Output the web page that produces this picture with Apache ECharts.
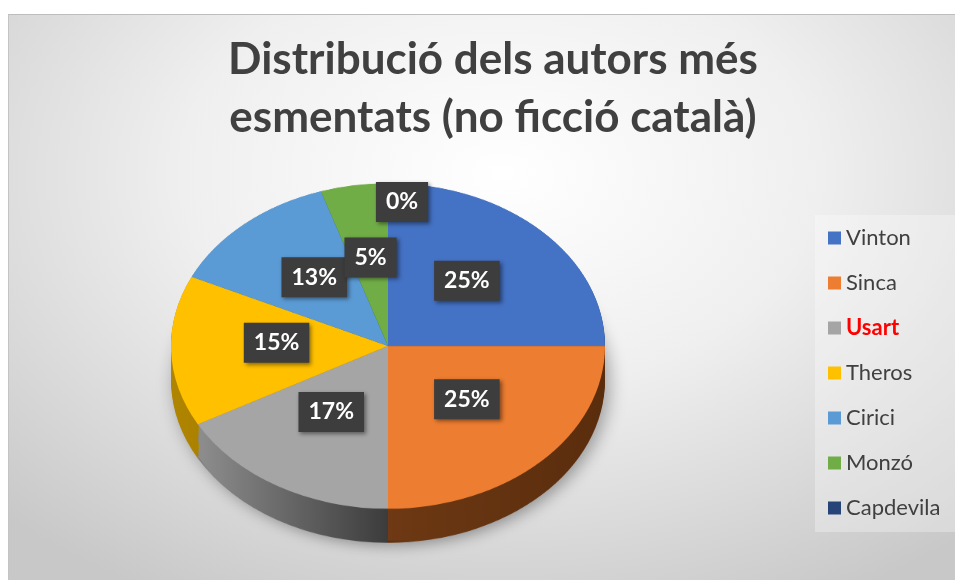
<!DOCTYPE html>
<html>
<head>
<meta charset="utf-8">
<script src="https://cdn.jsdelivr.net/npm/echarts@6/dist/echarts.min.js"></script>
<style>
    html, body { margin: 0; padding: 0; width: 955px; height: 580px; overflow: hidden; background: #fff; }
    #bg {
        position: absolute; left: 8px; top: 14px; right: 0; bottom: 0;
        background: radial-gradient(ellipse 75% 85% at 52% 28%, #ffffff 0%, #efefef 45%, #c8c8c8 100%);
        border-top: 1px solid #bdbdbd; border-left: 1px solid #c4c4c4;
    }
    #pies { position: absolute; left: 0; top: 0; width: 955px; height: 800px; transform-origin: 0 0; }
    #main { position: absolute; left: 0; top: 0; width: 955px; height: 580px; }
</style>
</head>
<body>
<div id="bg"></div>
<div id="pies"></div>
<div id="main"></div>
<script>
var titleText = 'Distribució dels autors més\nesmentats (no ficció català)';
var names = ['Vinton', 'Sinca', 'Usart', 'Theros', 'Cirici', 'Monzó', 'Capdevila'];
var values = [25, 25, 17, 15, 13, 5, 0];
var colors = ['#4472C4', '#ED7D31', '#A5A5A5', '#FFC000', '#5B9BD5', '#70AD47', '#264478'];
var highlight = 'Usart';

// geometria del "pastis 3D" (pantalla)
var CX = 388, CY = 346, R = 217, K = 0.75, DEPTH = 34;
var LABEL_SHIFT = -6; // perspectiva: les etiquetes una mica amunt

// colors del lateral (mes foscos)
var sideColors = [
    ['#2d4d86', '#22396a'],
    ['#6e3914', '#5a2d0d'],
    ['#8e8e8e', '#3c3c3c'],
    ['#b08500', '#8a6800'],
    ['#3c6a96', '#2c5076'],
    ['#4b7530', '#3a5c24'],
    ['#18294a', '#101d36']
];

function sliceData(cols) {
    return names.map(function (n, i) {
        return { name: n, value: values[i], itemStyle: { color: cols[i] } };
    });
}

function sideCol(i) {
    return {
        type: 'linear', x: 0, y: 0, x2: 1, y2: 0,
        colorStops: [{ offset: 0, color: sideColors[i][0] }, { offset: 1, color: sideColors[i][1] }]
    };
}

var piesDom = document.getElementById('pies');
piesDom.style.transform = 'scaleY(' + K + ')';
var pies = echarts.init(piesDom);

var pieSeries = [];
var maxD = DEPTH / K;
for (var d = maxD; d > 0; d -= 3) {
    var s = {
        type: 'pie',
        silent: true,
        center: [CX, CY / K + d],
        radius: R,
        startAngle: 90,
        label: { show: false },
        labelLine: { show: false },
        emphasis: { disabled: true },
        data: sliceData(names.map(function (n, i) { return sideCol(i); }))
    };
    if (d === maxD) {
        s.itemStyle = { shadowBlur: 18, shadowColor: 'rgba(0,0,0,0.35)', shadowOffsetX: 4, shadowOffsetY: 4 };
    }
    pieSeries.push(s);
}
// cara superior
pieSeries.push({
    type: 'pie',
    silent: true,
    center: [CX, CY / K],
    radius: R,
    startAngle: 90,
    label: { show: false },
    labelLine: { show: false },
    emphasis: { disabled: true },
    data: sliceData(colors)
});

pies.setOption({ animation: false, series: pieSeries });

// titol, llegenda i etiquetes
var main = echarts.init(document.getElementById('main'));
main.setOption({
    animation: false,
    color: colors,
    title: {
        text: titleText,
        left: 488,
        top: 26,
        textAlign: 'center',
        textStyle: {
            fontFamily: 'Lato',
            fontSize: 44,
            fontWeight: 'bold',
            color: '#404040',
            lineHeight: 58
        }
    },
    legend: {
        orient: 'vertical',
        left: 815,
        top: 215,
        padding: [12, 30, 13, 13],
        itemGap: 23,
        itemWidth: 13,
        itemHeight: 13,
        icon: 'rect',
        backgroundColor: 'rgba(255,255,255,0.3)',
        itemStyle: { opacity: 1 },
        textStyle: { fontFamily: 'Lato', fontSize: 22, color: '#404040' },
        data: names.map(function (n) {
            if (n === highlight) {
                return { name: n, textStyle: { color: '#FF0000', fontWeight: 'bold' } };
            }
            return { name: n };
        })
    },
    series: [{
        type: 'pie',
        silent: true,
        center: [CX, CY],
        radius: R,
        startAngle: 90,
        itemStyle: { opacity: 0 },
        labelLine: { show: false },
        emphasis: { disabled: true },
        label: {
            show: true,
            position: 'inside',
            opacity: 1,
            formatter: function (p) { return Math.round(p.percent) + '%'; },
            fontFamily: 'Lato',
            fontSize: 23,
            fontWeight: 'bold',
            color: '#ffffff',
            lineHeight: 26,
            backgroundColor: '#3d3d3d',
            padding: [7, 10, 7, 10],
            shadowColor: 'rgba(0,0,0,0.45)',
            shadowBlur: 4,
            shadowOffsetX: 2,
            shadowOffsetY: 2
        },
        labelLayout: function (p) {
            var r = p.labelRect;
            var lx = r.x + r.width / 2, ly = r.y + r.height / 2;
            var tiny = values[p.dataIndex] < 1;
            var f = tiny ? 1.65 : 1;
            return {
                x: CX + (lx - CX) * f + (tiny ? 14 : 0),
                y: CY + LABEL_SHIFT + (ly - CY) * f * K,
                align: 'center',
                verticalAlign: 'middle'
            };
        },
        data: names.map(function (n, i) { return { name: n, value: values[i] }; })
    }]
});
</script>
</body>
</html>
